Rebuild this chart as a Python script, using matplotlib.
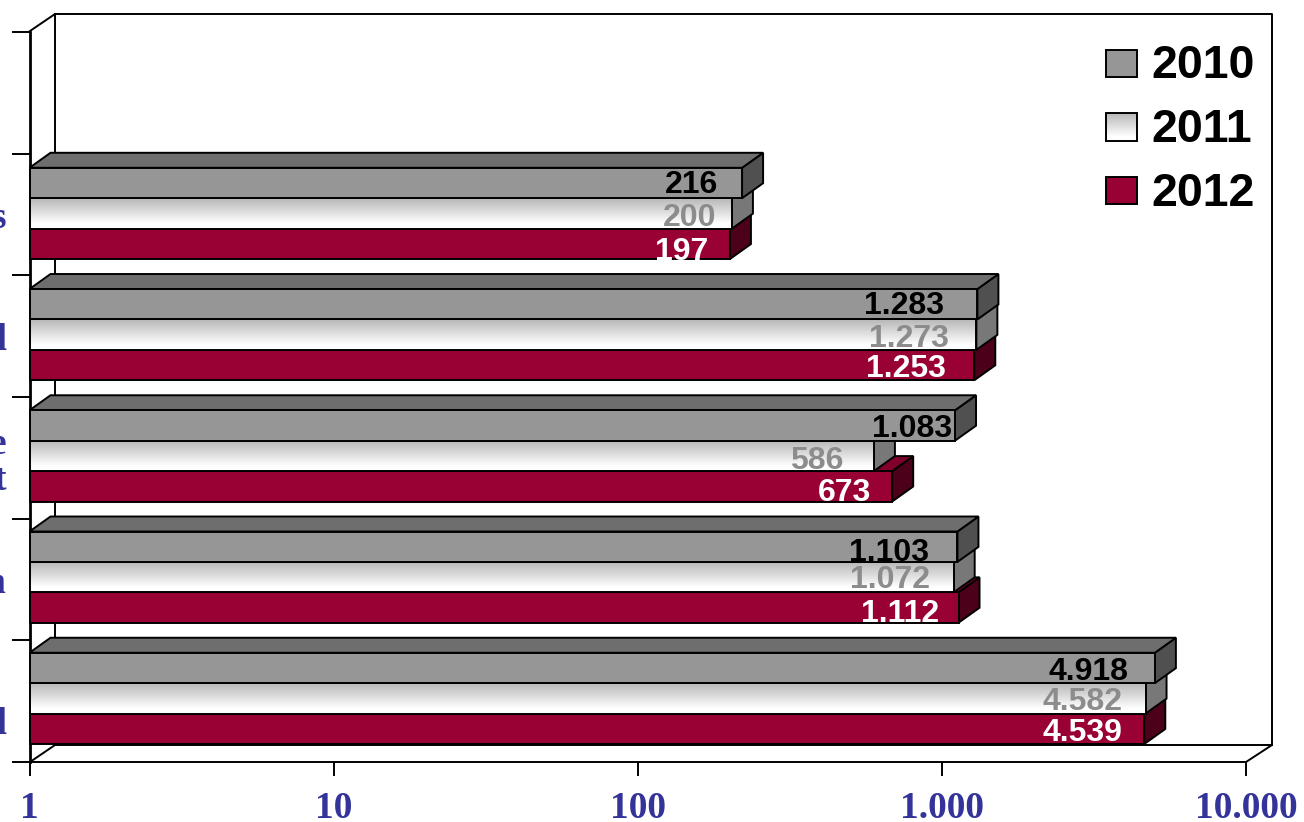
import matplotlib
matplotlib.use('Agg')
import matplotlib.pyplot as plt
import numpy as np
from matplotlib.patches import Polygon, Rectangle
from matplotlib.ticker import NullLocator

# Data (last letters only, the category names run off the left edge of the picture)
categories = ['\nd', 'n', 'e\nt', 'd', 's']
years = ['2010', '2011', '2012']
values_2010 = [4918, 1103, 1083, 1283, 216]
values_2011 = [4582, 1072, 586, 1273, 200]
values_2012 = [4539, 1112, 673, 1253, 197]
x_ticks = [1, 10, 100, 1000, 10000]
x_tick_labels = ['1', '10', '100', '1.000', '10.000']

# Label nudges in pixels from the bar end, one row per year
label_dx = [[-26, -28, -3, -33, -24], [-23, -24, -31, -27, -16], [-22, -19, -21, -28, -22]]
label_dy = [[-4, -6, -4, -2, -2], [-4, -3, -5, -4, -5], [-4, -6, -7, -4, -8]]

BLUE = '#333399'
LW = 1.4
W, H = 1304, 822

fig = plt.figure(figsize=(W / 100, H / 100), dpi=100, facecolor='white')

# Pixel-coordinate layer for the box walls and the legend
bg = fig.add_axes([0, 0, 1, 1])
bg.set_xlim(0, W)
bg.set_ylim(H, 0)
bg.axis('off')
for xs, ys in [([55, 1272, 1246], [745, 745, 762]),
               ([30, 55, 1272, 1272], [31, 14, 14, 745]),
               ([30, 55, 55], [762, 745, 14])]:
    bg.plot(xs, ys, color='black', lw=LW, solid_capstyle='projecting')

# Main axes: front plane of the 3D box
ax = fig.add_axes([29.5 / W, (H - 762) / H, (1246 - 29.5) / W, 730 / H])
ax.patch.set_visible(False)
ax.set_xscale('log')
ax.set_xlim(1, 10000)
ax.set_ylim(0, 6)
ax.spines['top'].set_visible(False)
ax.spines['right'].set_visible(False)
ax.spines['left'].set_linewidth(2)
ax.spines['bottom'].set_linewidth(LW)

ax.set_xticks(x_ticks)
ax.set_xticklabels(x_tick_labels)
ax.xaxis.set_minor_locator(NullLocator())
ax.tick_params(axis='x', length=10, width=LW, pad=11, labelsize=27, labelcolor=BLUE)
ax.set_yticks(np.arange(7))
ax.set_yticklabels([])
ax.tick_params(axis='y', which='major', length=13, width=LW)
ax.set_yticks(np.arange(5) + 0.5, categories, minor=True)
ax.tick_params(axis='y', which='minor', length=0, pad=17, labelsize=27, labelcolor=BLUE)
for t in ax.get_xticklabels() + ax.get_yticklabels(minor=True):
    t.set_family('Liberation Serif')
    t.set_fontweight('bold')
    t.set_linespacing(1.05)

# Depth of the bars, as a factor on the log axis and a step on the y axis
depth_x = 10 ** (21 / 304)
depth_y = 15 / (730 / 6)
shift = 1.02  # bar ends sit a little right of their value because of the 3D view
bar_h = 0.25
base = 0.148
slot = 0.9965

# Painted from the lowest bar of each group up, so upper bars cover the sides behind them
series = [values_2012, values_2011, values_2010]
rows = [2, 1, 0]
face = ['#990033', None, '#969696']
top = ['#80002b', '#a0a0a0', '#6e6e6e']
side = ['#4d001a', '#787878', '#505050']
text_col = ['white', '#8c8c8c', 'black']
grad = np.concatenate([np.linspace(0.72, 1, 41), np.ones(7)])

z = 3
for s, vals in enumerate(series):
    for k, v in enumerate(vals):
        right = v * shift
        yl = base + k * slot + (2 - rows[s]) * bar_h
        ax.add_patch(Polygon([(right, yl), (right * depth_x, yl + depth_y),
                              (right * depth_x, yl + bar_h + depth_y), (right, yl + bar_h)],
                             fc=side[s], ec='black', lw=LW, clip_on=False, zorder=z))
        ax.add_patch(Polygon([(1, yl + bar_h), (depth_x, yl + bar_h + depth_y),
                              (right * depth_x, yl + bar_h + depth_y), (right, yl + bar_h)],
                             fc=top[s], ec='black', lw=LW, clip_on=False, zorder=z))
        if face[s] is None:
            edges = np.linspace(yl, yl + bar_h, len(grad) + 1)
            ax.pcolormesh([1, right], edges, grad[::-1, None], cmap='gray', vmin=0, vmax=1,
                          zorder=z + 0.5, clip_on=False)
            ax.barh(yl, right - 1, height=bar_h, left=1, align='edge', fc='none', ec='black',
                    lw=LW, zorder=z + 0.6, clip_on=False)
        else:
            ax.barh(yl, right - 1, height=bar_h, left=1, align='edge', color=face[s], ec='black',
                    lw=LW, zorder=z + 0.6, clip_on=False)
    z += 1

# Value labels go on top of everything
for s, vals in enumerate(series):
    row = rows[s]
    for k, v in enumerate(vals):
        yl = base + k * slot + (2 - row) * bar_h
        ax.annotate(f'{v:,}'.replace(',', '.'), xy=(v * shift, yl + bar_h / 2),
                    xytext=(label_dx[row][k], label_dy[row][k]), textcoords='offset pixels',
                    ha='right', va='center', color=text_col[s], fontsize=23, fontweight='bold',
                    family='Liberation Sans', zorder=20, annotation_clip=False)

# Legend
legend_y = [50, 113, 177]
for i, year in enumerate(years):
    y = legend_y[i]
    if i == 1:
        bg.imshow(grad[:, None], cmap='gray', vmin=0, vmax=1, aspect='auto',
                  extent=(1106, 1137, y + 28, y), zorder=3)
    else:
        bg.add_patch(Rectangle((1106, y), 31, 27, fc=face[2 - i], ec='none', zorder=3))
    bg.add_patch(Rectangle((1106, y), 31, 28 if i == 1 else 27, fc='none', ec='black', lw=LW, zorder=4))
    bg.text(1151, y + 16.5, year, ha='left', va='center', fontsize=33.5, fontweight='bold',
            family='Liberation Sans', color='black')
bg.set_xlim(0, W)
bg.set_ylim(H, 0)

fig.savefig('out.png', dpi=100)
